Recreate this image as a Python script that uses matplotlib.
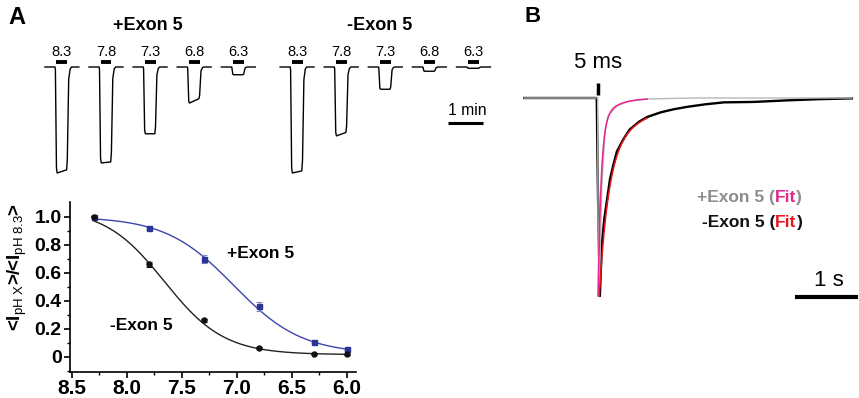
import numpy as np
import matplotlib
matplotlib.use('Agg')
import matplotlib.pyplot as plt
from matplotlib.ticker import FixedLocator

plt.rcParams['font.family'] = ['Liberation Sans', 'DejaVu Sans']
plt.rcParams['mathtext.fontset'] = 'custom'
plt.rcParams['mathtext.rm'] = 'Liberation Sans'
plt.rcParams['mathtext.it'] = 'Liberation Sans:italic'
plt.rcParams['mathtext.bf'] = 'Liberation Sans:bold'

# ---------------- data ----------------
# Panel A, raw traces (peak amplitude normalised to pH 8.3 trace)
ph_labels = ['8.3', '7.8', '7.3', '6.8', '6.3']
plus_amp = [1.00, 0.905, 0.63, 0.34, 0.073]
plus_relax = [0.03, 0.01, 0.0, 0.12, 0.0]
minus_amp = [1.00, 0.65, 0.21, 0.04, 0.012]
minus_relax = [0.02, 0.05, 0.0, 0.0, 0.0]

# Panel A, dose-response
ph_dose = [8.3, 7.8, 7.3, 6.8, 6.3, 6.0]
plus_mean = [1.0, 0.92, 0.70, 0.36, 0.105, 0.055]
plus_err = [0.005, 0.01, 0.03, 0.03, 0.01, 0.008]
minus_mean = [1.0, 0.66, 0.26, 0.06, 0.022, 0.018]
minus_err = [0.005, 0.02, 0.012, 0.006, 0.004, 0.004]
# Hill fit parameters
plus_fit = dict(top=1.0, bottom=0.02, ph50=7.03, n=1.4)
minus_fit = dict(top=1.06, bottom=0.015, ph50=7.66, n=1.6)

# Panel B, traces (time in s from stimulus, current normalised)
black_t = [-1.17, -0.5, -0.02, 0.0, 0.03, 0.06, 0.10, 0.15, 0.19, 0.25, 0.30,
           0.40, 0.50, 0.65, 0.78, 1.0, 1.2, 1.41, 1.7, 2.0, 2.46, 3.0, 3.5, 4.03]
black_v = [0, 0, 0, -0.5, -1.0, -0.74, -0.61, -0.50, -0.41, -0.33, -0.27,
           -0.21, -0.16, -0.12, -0.096, -0.072, -0.057, -0.045, -0.032, -0.022,
           -0.02, -0.012, -0.006, -0.002]
gray_t = [-1.17, -0.005, 0.0, 0.02, 0.06, 0.11, 0.16, 0.30, 0.50, 0.80, 1.5, 4.03]
gray_v = [0, 0, -0.6, -0.97, -0.45, -0.17, -0.09, -0.04, -0.015, -0.005, 0, 0]
# exponential fits (amplitudes, time constants in s)
pink_fit = dict(t0=0.0, a=[0.88, 0.12], tau=[0.05, 0.25], tend=0.78)
red_fit = dict(t0=0.02, a=[0.75, 0.25], tau=[0.15, 0.80], tend=0.78)

# ---------------- figure ----------------
W, H = 859, 398
fig = plt.figure(figsize=(W / 100, H / 100), dpi=100)


def rect(x0, y0, x1, y1):
    return [x0 / W, 1 - y1 / H, (x1 - x0) / W, (y1 - y0) / H]


# ---- Panel A traces ----
ax_tr = fig.add_axes(rect(40, 40, 500, 185))
ax_tr.axis('off')
ax_tr.set_xlim(0, 460 / 35)
ax_tr.set_ylim(-(185 - 67) / 106, (67 - 40) / 106)

shape_t = np.array([0, 0.29, 0.30, 0.33, 0.35, 0.62, 0.64, 0.68, 0.72, 0.76, 0.97])
spacing = 1.26
group_starts = [0.14, 6.86]
groups = [(plus_amp, plus_relax), (minus_amp, minus_relax)]
for g0, (amps, rel) in zip(group_starts, groups):
    for i, (a, r) in enumerate(zip(amps, rel)):
        x0 = g0 + i * spacing
        vals = [0, 0, -0.03 * a, -0.95 * a, -a, -a * (1 - r), -0.9 * a * (1 - r),
                -0.12 * a * (1 - r), -0.02 * a, 0, 0]
        ax_tr.plot(x0 + shape_t, vals, color='black', lw=1.0, solid_joinstyle='round')
        ax_tr.plot([x0 + 0.33, x0 + 0.64], [0.047, 0.047], color='black', lw=2.8,
                   solid_capstyle='butt')
        ax_tr.text(x0 + 0.485, 0.14, ph_labels[i], ha='center', va='center',
                   fontsize=10.5)

ax_tr.text(3.09, 0.387, '+Exon 5', ha='center', va='center', fontsize=13,
           fontweight='bold', clip_on=False)
ax_tr.text(9.71, 0.387, '-Exon 5', ha='center', va='center', fontsize=13,
           fontweight='bold', clip_on=False)
ax_tr.plot([11.66, 12.66], [-0.528, -0.528], color='black', lw=2.2,
           solid_capstyle='butt')
ax_tr.text(12.2, -0.415, '1 min', ha='center', va='center', fontsize=11.3)

# ---- Panel A dose-response ----
ax_d = fig.add_axes(rect(70, 202, 356, 372))
ax_d.set_xlim(8.518, 5.918)
ax_d.set_ylim(-0.109, 1.105)


def hill(ph, top, bottom, ph50, n):
    return bottom + (top - bottom) / (1 + 10 ** (n * (ph50 - ph)))


ph_fine = np.linspace(ph_dose[0], ph_dose[-1], 300)
ax_d.plot(ph_fine, hill(ph_fine, **plus_fit), color='#3a46a8', lw=1.0)
ax_d.plot(ph_fine, hill(ph_fine, **minus_fit), color='#222222', lw=1.0)
ax_d.errorbar(ph_dose, plus_mean, yerr=plus_err, fmt='s', color='#2b3596',
              ms=3.6, capsize=2, elinewidth=0.8, capthick=0.8, ecolor='#7f88c8')
ax_d.errorbar(ph_dose, minus_mean, yerr=minus_err, fmt='o', color='#111111',
              ms=3.6, capsize=2, elinewidth=0.8, capthick=0.8)

for s in ['top', 'right']:
    ax_d.spines[s].set_visible(False)
for s in ['left', 'bottom']:
    ax_d.spines[s].set_linewidth(1.2)
ax_d.xaxis.set_major_locator(FixedLocator([8.5, 8.0, 7.5, 7.0, 6.5, 6.0]))
ax_d.xaxis.set_minor_locator(FixedLocator([8.25, 7.75, 7.25, 6.75, 6.25]))
ax_d.yaxis.set_major_locator(FixedLocator([0, 0.2, 0.4, 0.6, 0.8, 1.0]))
ax_d.yaxis.set_minor_locator(FixedLocator([-0.1, 0.1, 0.3, 0.5, 0.7, 0.9]))
ax_d.set_xticklabels(['8.5', '8.0', '7.5', '7.0', '6.5', '6.0'])
ax_d.set_yticklabels(['0', '0.2', '0.4', '0.6', '0.8', '1.0'])
ax_d.tick_params(which='major', direction='out', length=4, width=1.2)
ax_d.tick_params(which='minor', direction='out', length=2.5, width=1.0)
ax_d.tick_params(axis='x', labelsize=15, pad=1)
ax_d.tick_params(axis='y', labelsize=14, pad=2)
for lab in ax_d.get_xticklabels() + ax_d.get_yticklabels():
    lab.set_fontweight('bold')
ax_d.set_ylabel(r'<I$_{\mathrm{pH\ X}}$>/<I$_{\mathrm{pH\ 8.3}}$>',
                fontsize=13.5, fontweight='bold')
ax_d.yaxis.set_label_coords(-0.145, 0.62)
ax_d.text(7.09, 0.74, '+Exon 5', ha='left', va='center', fontsize=12.5,
          fontweight='bold')
ax_d.text(8.155, 0.226, '-Exon 5', ha='left', va='center', fontsize=12.5,
          fontweight='bold')

# ---- Panel B ----
ax_b = fig.add_axes(rect(520, 40, 859, 310))
ax_b.axis('off')
ax_b.set_xlim(-(598 - 520) / 63, (859 - 598) / 63)
ax_b.set_ylim(-(310 - 98) / 198, (98 - 40) / 198)

ax_b.plot(black_t, black_v, color='black', lw=1.7, solid_joinstyle='round')
ax_b.plot(gray_t, gray_v, color='#b8b8b8', lw=1.0)


def expfit(p):
    t = np.linspace(p['t0'], p['tend'], 300)
    v = np.zeros_like(t)
    for a, tau in zip(p['a'], p['tau']):
        v -= a * np.exp(-(t - p['t0']) / tau)
    return t, v


tr, vr = expfit(red_fit)
ax_b.plot(tr, vr, color='#e8141c', lw=1.1)
tp, vp = expfit(pink_fit)
ax_b.plot(tp, vp, color='#e8268e', lw=1.1)

ax_b.plot([0, 0], [0.015, 0.076], color='black', lw=2.5, solid_capstyle='butt')
ax_b.text(0, 0.177, '5 ms', ha='center', va='center', fontsize=16)
ax_b.plot([3.127, 4.127], [-1.005, -1.005], color='black', lw=3,
          solid_capstyle='butt', clip_on=False)
ax_b.text(3.67, -0.92, '1 s', ha='center', va='center', fontsize=16)


def chain(ax, x, y, parts, **kw):
    t = ax.text(x, y, parts[0][0], color=parts[0][1], va='center', ha='left', **kw)
    for s, c in parts[1:]:
        t = ax.annotate(s, xy=(1, 0), xycoords=t, va='bottom', ha='left',
                        color=c, **kw)


chain(ax_b, 1.571, -0.5, [('+Exon 5 (', '#8c8c8c'), ('Fit', '#e0288c'),
                           (')', '#8c8c8c')], fontsize=12.5, fontweight='bold')
chain(ax_b, 1.65, -0.631, [('-Exon 5 (', '#111111'), ('Fit', '#e8141c'),
                            (')', '#111111')], fontsize=12.5, fontweight='bold')

fig.text(8 / W, 1 - 17 / H, 'A', ha='left', va='center', fontsize=17,
         fontweight='bold')
fig.text(525 / W, 1 - 17 / H, 'B', ha='left', va='center', fontsize=16,
         fontweight='bold')

fig.savefig('out.png', dpi=100)
